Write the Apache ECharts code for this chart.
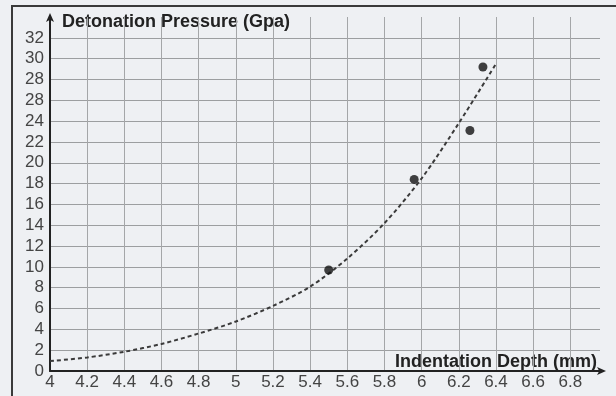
<!DOCTYPE html>
<html>
<head>
<meta charset="utf-8">
<style>
  html, body { margin: 0; padding: 0; background: #eef0f3; }
  #chart { width: 616px; height: 396px; }
</style>
<script src="https://cdn.jsdelivr.net/npm/echarts@6/dist/echarts.min.js"></script>
</head>
<body>
<div id="chart"></div>
<script>
// measured points
const depth = [5.5, 5.96, 6.26, 6.33];
const pressure = [9.7, 18.4, 23.1, 29.2];

// dashed trend curve
const trendX = [4.0, 4.2, 4.4, 4.6, 4.8, 5.0, 5.2, 5.4, 5.6, 5.8, 6.0, 6.2, 6.4];
const trendY = [0.95, 1.3, 1.85, 2.6, 3.6, 4.75, 6.25, 8.1, 10.8, 14.2, 18.5, 23.8, 29.5];

// y tick labels as printed (the 26 is printed as 28)
const yLabels = ['0', '2', '4', '6', '8', '10', '12', '14', '16', '18', '20', '22', '24', '28', '28', '30', '32'];

const chart = echarts.init(document.getElementById('chart'));

chart.setOption({
  backgroundColor: '#eef0f3',
  animation: false,
  grid: { left: 50, right: 16, top: 17, bottom: 25 },
  xAxis: {
    type: 'value',
    min: 4,
    max: 6.96,
    interval: 0.2,
    axisLine: {
      lineStyle: { color: '#222', width: 2 },
      symbol: ['none', 'arrow'],
      symbolSize: [6, 9],
      symbolOffset: [0, 6]
    },
    axisTick: { show: false },
    axisLabel: {
      color: '#444',
      fontFamily: 'Liberation Sans',
      fontSize: 17,
      margin: 3,
      showMaxLabel: false,
      formatter: v => String(Math.round(v * 10) / 10)
    },
    splitLine: { show: true, showMaxLine: false, lineStyle: { color: '#a4a6a8', width: 1 } }
  },
  yAxis: {
    type: 'value',
    min: 0,
    max: 34,
    interval: 2,
    axisLine: {
      lineStyle: { color: '#222', width: 2 },
      symbol: ['none', 'arrow'],
      symbolSize: [6, 9],
      symbolOffset: [0, 4]
    },
    axisTick: { show: false },
    axisLabel: {
      color: '#444',
      fontFamily: 'Liberation Sans',
      fontSize: 17,
      margin: 6,
      formatter: v => yLabels[Math.round(v / 2)] || ''
    },
    splitLine: { show: true, showMaxLine: false, lineStyle: { color: '#9c9ea0', width: 1 } }
  },
  graphic: [
    {
      type: 'polyline',
      shape: { points: [[12, 396], [12, 6], [616, 6]] },
      style: { stroke: '#3a3a3a', lineWidth: 2, fill: null },
      silent: true
    },
    {
      type: 'text',
      left: 62,
      top: 13,
      style: {
        text: 'Detonation Pressure (Gpa)',
        font: 'bold 18px "Liberation Sans"',
        fill: '#222'
      }
    },
    {
      type: 'text',
      right: 19,
      top: 353,
      style: {
        text: 'Indentation Depth (mm)',
        font: 'bold 18px "Liberation Sans"',
        fill: '#222'
      }
    }
  ],
  series: [
    {
      type: 'line',
      data: trendX.map((x, i) => [x, trendY[i]]),
      smooth: 0.3,
      symbol: 'none',
      lineStyle: { color: '#3a3a3a', width: 2, type: [4, 3] },
      z: 2
    },
    {
      type: 'scatter',
      data: depth.map((x, i) => [x, pressure[i]]),
      symbolSize: 9,
      itemStyle: { color: '#111' },
      z: 3
    }
  ]
});
</script>
</body>
</html>
